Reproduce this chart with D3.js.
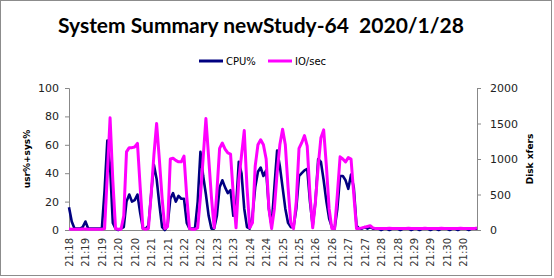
<!DOCTYPE html>
<html>
<head>
<meta charset="utf-8">
<script src="https://cdn.jsdelivr.net/npm/d3@7"></script>
<style>
  body { margin: 0; background: #fff; }
  .tick-label { font-family: "DejaVu Sans", sans-serif; font-size: 11px; fill: #222; }
  .cat-label { font-family: "DejaVu Sans", sans-serif; font-size: 10px; fill: #333; }
  .axis-title { font-family: "DejaVu Sans", sans-serif; font-size: 9px; font-weight: bold; fill: #000; }
  .legend { font-family: "DejaVu Sans", sans-serif; font-size: 10px; fill: #000; }
  .title { font-family: Lato, sans-serif; font-size: 21px; font-weight: bold; fill: #000; }
</style>
</head>
<body>
<div id="chart"></div>
<script>
const WIDTH = 554;
const HEIGHT = 278;
const MARGINS = {left: 69, right: 77, top: 88, bottom: 48};

const TITLE = "System Summary newStudy-64\u00a0\u00a02020/1/28";
const SERIES_NAMES = ["CPU%", "IO/sec"];
const COLORS = ["#000080", "#ff00ff"];

// one sample every 5 s, labels every 6th sample
const LABEL_STEP = 6;
const tickLabels = ["21:18", "21:19", "21:19", "21:20", "21:20", "21:21", "21:21",
  "21:22", "21:22", "21:23", "21:23", "21:24", "21:24", "21:25", "21:25",
  "21:26", "21:26", "21:27", "21:27", "21:28", "21:28", "21:29", "21:29",
  "21:30", "21:30"];

const cpu = [16, 6, 1, 1, 1, 2, 6, 1, 1, 1, 1, 1, 1, 28, 63, 45, 5, 1, 0, 1,
  2, 20, 25, 20, 21, 25, 12, 1, 1, 3, 25, 46, 36, 18, 2, 0, 3, 22, 26, 20,
  24, 22, 22, 5, 1, 1, 1, 20, 55, 38, 25, 10, 1, 1, 10, 30, 35, 30, 26, 28,
  10, 15, 48, 40, 15, 2, 1, 10, 30, 41, 44, 38, 42, 15, 3, 30, 56, 45, 30, 15,
  5, 2, 2, 15, 38, 40, 42, 43, 20, 3, 20, 50, 48, 35, 20, 8, 2, 1, 15, 38,
  38, 35, 29, 39, 30, 3, 1, 1, 2, 1, 2, 1, 1, 1, 0, 1, 1, 0, 1, 1,
  1, 0, 1, 1, 1, 0, 1, 1, 0, 1, 1, 1, 0, 1, 1, 0, 1, 1, 1, 0,
  1, 1, 0, 1, 1, 1, 0, 1, 1, 1];

const io = [15, 10, 10, 10, 10, 15, 15, 10, 10, 10, 10, 10, 10, 20, 780, 1580, 700, 20, 10, 10,
  200, 1100, 1160, 1160, 1170, 1220, 600, 20, 10, 20, 500, 1050, 1500, 990, 450, 20, 50, 1000, 1010, 980,
  960, 960, 1040, 470, 20, 10, 10, 30, 470, 1020, 1570, 1020, 470, 30, 535, 1150, 1225, 1140, 1085, 1070,
  500, 30, 700, 1050, 1400, 600, 30, 100, 900, 1200, 1270, 1200, 1000, 300, 20, 300, 800, 1200, 1420, 1200,
  600, 100, 20, 400, 1150, 1230, 1330, 1180, 500, 30, 400, 900, 1300, 1410, 900, 300, 20, 20, 500, 1030,
  1000, 960, 1020, 1000, 500, 20, 20, 30, 40, 50, 60, 30, 20, 20, 20, 20, 20, 25, 20, 20,
  20, 20, 20, 20, 25, 20, 20, 20, 20, 20, 25, 20, 20, 20, 20, 20, 25, 20, 20, 20,
  20, 20, 20, 25, 20, 20, 20, 20, 20, 30];

const leftTicks = [0, 20, 40, 60, 80, 100];
const rightTicks = [0, 500, 1000, 1500, 2000];

const VIS_WIDTH = WIDTH - MARGINS.left - MARGINS.right;
const VIS_HEIGHT = HEIGHT - MARGINS.top - MARGINS.bottom;

const svg = d3.select("#chart")
  .append("svg")
    .attr("width", WIDTH)
    .attr("height", HEIGHT);

// outer frame
svg.append("rect")
  .attr("x", 0.5).attr("y", 0.5)
  .attr("width", 551).attr("height", 275)
  .attr("fill", "#fff")
  .attr("stroke", "#8c8c8c");

const X_SCALE = d3.scaleLinear()
  .domain([0, cpu.length - 1])
  .range([MARGINS.left, MARGINS.left + VIS_WIDTH]);

const Y_LEFT = d3.scaleLinear()
  .domain([0, 100])
  .range([MARGINS.top + VIS_HEIGHT, MARGINS.top]);

const Y_RIGHT = d3.scaleLinear()
  .domain([0, 2000])
  .range([MARGINS.top + VIS_HEIGHT, MARGINS.top]);

// left axis
const leftAxis = svg.append("g")
  .attr("transform", "translate(" + MARGINS.left + ",0)")
  .call(d3.axisLeft(Y_LEFT).tickValues(leftTicks).tickSize(4).tickPadding(6));
leftAxis.selectAll("text").attr("class", "tick-label").attr("font-size", null).attr("font-family", null);

// right axis
const rightAxis = svg.append("g")
  .attr("transform", "translate(" + (MARGINS.left + VIS_WIDTH) + ",0)")
  .call(d3.axisRight(Y_RIGHT).tickValues(rightTicks).tickSize(4).tickPadding(9)
    .tickFormat(d3.format("d")));
rightAxis.selectAll("text").attr("class", "tick-label").attr("font-size", null).attr("font-family", null);

// bottom axis
const tickIdx = tickLabels.map((d, i) => i * LABEL_STEP);
const bottomAxis = svg.append("g")
  .attr("transform", "translate(0," + (MARGINS.top + VIS_HEIGHT) + ")")
  .call(d3.axisBottom(X_SCALE).tickValues(tickIdx).tickSize(0)
    .tickFormat((d, i) => tickLabels[i]));
bottomAxis.selectAll("text")
  .attr("class", "cat-label")
  .attr("font-size", null).attr("font-family", null)
  .attr("transform", "rotate(-90)")
  .attr("text-anchor", "end")
  .attr("x", -8).attr("y", 0).attr("dy", "0.35em");

svg.selectAll(".domain").attr("stroke", "#888");
svg.selectAll(".tick line").attr("stroke", "#888");

// lines
const line = (scale) => d3.line()
  .x((d, i) => X_SCALE(i))
  .y((d) => scale(d));

svg.append("path")
  .datum(cpu)
  .attr("d", line(Y_LEFT))
  .attr("fill", "none")
  .attr("stroke", COLORS[0])
  .attr("stroke-width", 2.6)
  .attr("stroke-linejoin", "round");

svg.append("path")
  .datum(io)
  .attr("d", line(Y_RIGHT))
  .attr("fill", "none")
  .attr("stroke", COLORS[1])
  .attr("stroke-width", 3)
  .attr("stroke-linejoin", "round");

// axis titles
svg.append("text")
  .attr("class", "axis-title")
  .attr("transform", "translate(27,159) rotate(-90)")
  .attr("text-anchor", "middle")
  .attr("dy", "0.35em")
  .text("usr%+sys%");

svg.append("text")
  .attr("class", "axis-title")
  .attr("transform", "translate(530,159) rotate(-90)")
  .attr("text-anchor", "middle")
  .attr("dy", "0.35em")
  .text("Disk xfers");

// title
svg.append("text")
  .attr("class", "title")
  .attr("x", 261).attr("y", 33)
  .attr("text-anchor", "middle")
  .text(TITLE);

// legend
const LEGEND_X = [199, 268];
SERIES_NAMES.forEach((name, i) => {
  svg.append("line")
    .attr("x1", LEGEND_X[i]).attr("x2", LEGEND_X[i] + 24)
    .attr("y1", 61).attr("y2", 61)
    .attr("stroke", COLORS[i])
    .attr("stroke-width", 3);
  svg.append("text")
    .attr("class", "legend")
    .attr("x", LEGEND_X[i] + 27).attr("y", 61)
    .attr("dy", "0.35em")
    .text(name);
});
</script>
</body>
</html>
